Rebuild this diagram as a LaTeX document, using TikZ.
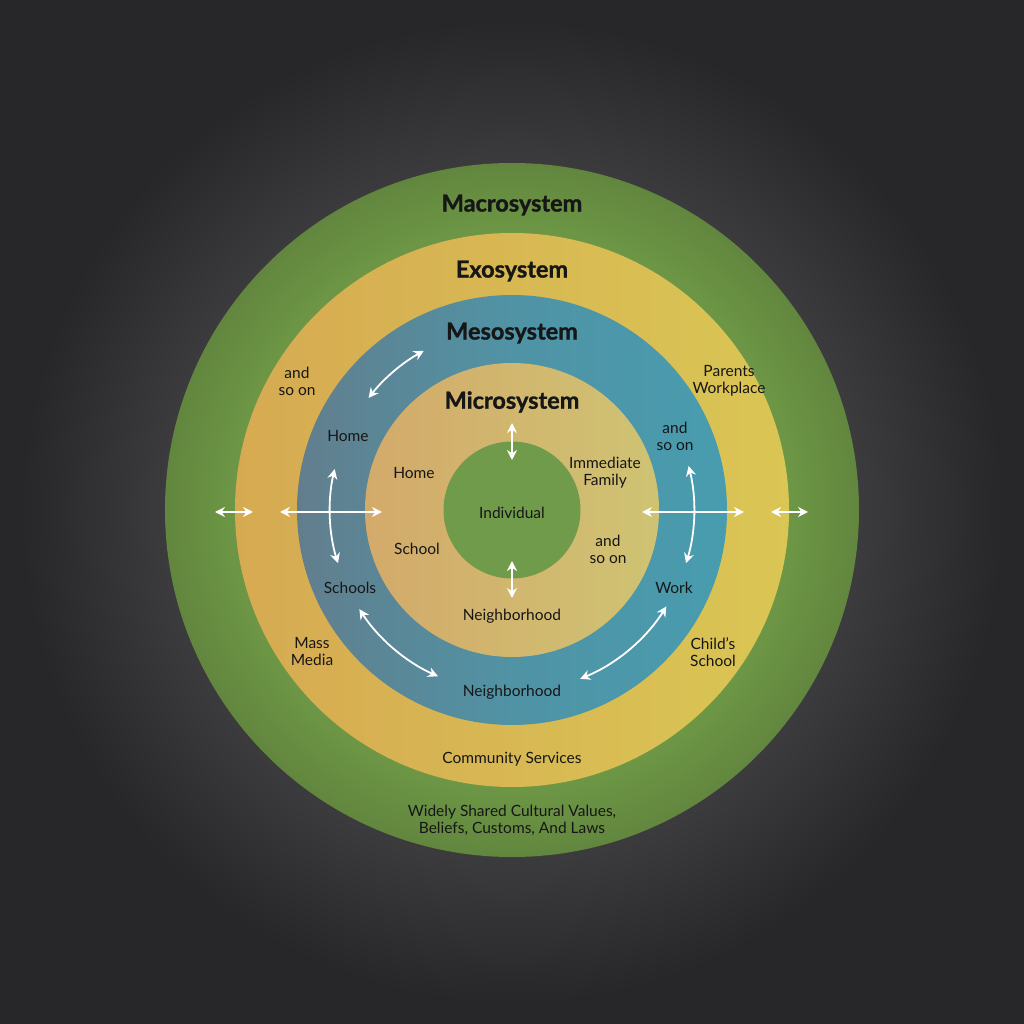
\documentclass[tikz,border=0pt]{standalone}
\usepackage{fontspec}
\setmainfont{Lato}[BoldFeatures={FakeBold=1.2}]
\usetikzlibrary{arrows.meta}

\definecolor{bgin}{RGB}{62,61,64}
\definecolor{bgout}{RGB}{39,38,40}
\definecolor{macroin}{RGB}{113,157,72}
\definecolor{macroout}{RGB}{98,134,62}
\definecolor{exoL}{RGB}{214,170,82}
\definecolor{exoR}{RGB}{218,198,84}
\definecolor{mesoL}{RGB}{98,126,141}
\definecolor{mesoR}{RGB}{72,156,175}
\definecolor{microL}{RGB}{211,170,106}
\definecolor{microR}{RGB}{207,195,115}
\definecolor{indiv}{RGB}{111,155,74}
\definecolor{ink}{RGB}{22,22,22}

\pgfdeclareradialshading{bgshade}{\pgfpoint{0bp}{0bp}}{color(0bp)=(bgin); color(16bp)=(bgin); color(24bp)=(bgout); color(50bp)=(bgout)}
\pgfdeclareradialshading{macroshade}{\pgfpoint{0bp}{0bp}}{color(0bp)=(macroin); color(18bp)=(macroin); color(25bp)=(macroout); color(50bp)=(macroout)}

\tikzset{
  label/.style={text=ink, font=\fontsize{15.5}{17}\selectfont, align=center},
  title/.style={text=ink, font=\fontsize{23.5}{25}\bfseries\selectfont},
  twoway/.style={white, line width=1.8pt, {Stealth[length=10pt,width=10pt]}-{Stealth[length=10pt,width=10pt]}}
}

\begin{document}
\begin{tikzpicture}[x=1pt,y=1pt]
	\pgfmathsetmacro\RMACRO{347}
	\pgfmathsetmacro\REXO{277}
	\pgfmathsetmacro\RMESO{215}
	\pgfmathsetmacro\RMICRO{147}
	\pgfmathsetmacro\RIND{68.5}
	\pgfmathsetmacro\RA{182}
	
	% background and rings
	\shade[shading=bgshade] (-512,-514) rectangle (512,510);
	\useasboundingbox (-512,-514) rectangle (512,510);
	\shade[shading=macroshade] (0,0) circle (\RMACRO);
	\shade[left color=exoL, right color=exoR] (0,0) circle (\REXO);
	\shade[left color=mesoL, right color=mesoR, middle color=mesoR!70!mesoL] (0,0) circle (\RMESO);
	\shade[left color=microL, right color=microR] (0,0) circle (\RMICRO);
	\fill[indiv] (0,0) circle (\RIND);
	
	% titles
	\node[title] (macro) at (0,305) {Macrosystem};
	\node[title] (exo) at (0,239) {Exosystem};
	\node[title] (meso) at (0,177) {Mesosystem};
	\node[title] (micro) at (0,108) {Microsystem};
	
	% microsystem
	\node[label] (individual) at (0,-3) {Individual};
	\node[label] (homeI) at (-98,37) {Home};
	\node[label] (schoolI) at (-95,-39) {School};
	\node[label] (neighI) at (0,-106) {Neighborhood};
	\node[label] (family) at (93,37) {Immediate\\Family};
	\node[label] (soonI) at (96,-39) {and\\so on};
	
	% mesosystem
	\node[label] (homeM) at (-164,74) {Home};
	\node[label] (schoolsM) at (-162,-78) {Schools};
	\node[label] (neighM) at (0,-182) {Neighborhood};
	\node[label] (work) at (162,-78) {Work};
	\node[label] (soonM) at (163,74) {and\\so on};
	
	% exosystem
	\node[label] (soonE) at (-215,129) {and\\so on};
	\node[label] (parents) at (217,129) {Parents\\Workplace};
	\node[label] (media) at (-200,-142) {Mass\\Media};
	\node[label] (childschool) at (201,-142) {Child’s\\School};
	\node[label] (community) at (0,-249) {Community Services};
	
	% macrosystem
	\node[label] (values) at (0,-310) {Widely Shared Cultural Values,\\Beliefs, Customs, And Laws};
	
	% arrow ends
	\coordinate (upA) at (0,87);
	\coordinate (upB) at (0,50);
	\coordinate (dnA) at (0,-51);
	\coordinate (dnB) at (0,-88);
	\coordinate (lfA) at (-297,-2);
	\coordinate (lfB) at (-259,-2);
	\coordinate (lfC) at (-232,-2);
	\coordinate (lfD) at (-130,-2);
	\coordinate (rtA) at (130,-2);
	\coordinate (rtB) at (232,-2);
	\coordinate (rtC) at (259,-2);
	\coordinate (rtD) at (296,-2);
	\coordinate (arcL) at (167:\RA);
	\coordinate (arcR) at (14:\RA);
	\coordinate (arcTL) at (142:\RA);
	\coordinate (arcBL) at (213:\RA);
	\coordinate (arcBR) at (292:\RA);
	
	\draw[twoway] (upA) -- (upB);
	\draw[twoway] (dnA) -- (dnB);
	\draw[twoway] (lfA) -- (lfB);
	\draw[twoway] (lfC) -- (lfD);
	\draw[twoway] (rtA) -- (rtB);
	\draw[twoway] (rtC) -- (rtD);
	\draw[twoway] (arcL) arc[start angle=167, end angle=197, radius=\RA];
	\draw[twoway] (arcR) arc[start angle=14, end angle=-17, radius=\RA];
	\draw[twoway] (arcTL) arc[start angle=142, end angle=119, radius=\RA];
	\draw[twoway] (arcBL) arc[start angle=213, end angle=246, radius=\RA];
	\draw[twoway] (arcBR) arc[start angle=292, end angle=328, radius=\RA];
\end{tikzpicture}
\end{document}
